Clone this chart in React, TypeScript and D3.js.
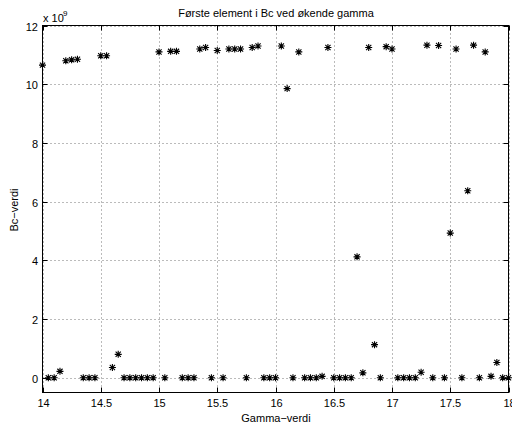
import React from "react";
import * as d3 from "d3";

const gamma = [
  14.0, 14.05, 14.1, 14.15, 14.2, 14.25, 14.3, 14.35, 14.4, 14.45,
  14.5, 14.55, 14.6, 14.65, 14.7, 14.75, 14.8, 14.85, 14.9, 14.95,
  15.0, 15.05, 15.1, 15.15, 15.2, 15.25, 15.3, 15.35, 15.4, 15.45,
  15.5, 15.55, 15.6, 15.65, 15.7, 15.75, 15.8, 15.85, 15.9, 15.95,
  16.0, 16.05, 16.1, 16.15, 16.2, 16.25, 16.3, 16.35, 16.4, 16.45,
  16.5, 16.55, 16.6, 16.65, 16.7, 16.75, 16.8, 16.85, 16.9, 16.95,
  17.0, 17.05, 17.1, 17.15, 17.2, 17.25, 17.3, 17.35, 17.4, 17.45,
  17.5, 17.55, 17.6, 17.65, 17.7, 17.75, 17.8, 17.85, 17.9, 17.95,
  18.0,
];

// Bc values in units of 1e9
const bc = [
  10.65, 0, 0, 0.22, 10.8, 10.83, 10.85, 0, 0, 0,
  10.97, 10.97, 0.35, 0.8, 0, 0, 0, 0, 0, 0,
  11.1, 0, 11.12, 11.12, 0, 0, 0, 11.2, 11.25, 0,
  11.15, 0, 11.2, 11.2, 11.2, 0, 11.25, 11.3, 0, 0,
  0, 11.3, 9.85, 0, 11.1, 0, 0, 0, 0.05, 11.25,
  0, 0, 0, 0, 4.12, 0.17, 11.25, 1.13, 0, 11.28,
  11.2, 0, 0, 0, 0, 0.19, 11.33, 0, 11.32, 0,
  4.93, 11.2, 0, 6.37, 11.33, 0, 11.1, 0.05, 0.52, 0,
  0,
];

const xTicks = [14, 14.5, 15, 15.5, 16, 16.5, 17, 17.5, 18];
const yTicks = [0, 2, 4, 6, 8, 10, 12];

const W = 512;
const H = 426;
const L = 42.5;
const R = 508.5;
const T = 25.5;
const B = 392.5;

export default function App() {
  const x = d3.scaleLinear().domain([14, 18]).range([L, R]);
  const y = d3.scaleLinear().domain([-0.5, 12]).range([B, T]);
  const font = "'Liberation Sans', Arial, Helvetica, sans-serif";
  const tl = 5;
  const m = 3.5;
  const md = 2.6;

  return (
    <svg
      width={W}
      height={H}
      style={{ position: "fixed", left: 0, top: 0, background: "#fff" }}
      fontFamily={font}
    >
      <rect x={0} y={0} width={W} height={H} fill="#fff" />
      {/* grid */}
      {xTicks.map((t) => (
        <line
          key={"gx" + t}
          x1={Math.round(x(t)) + 0.5}
          x2={Math.round(x(t)) + 0.5}
          y1={T}
          y2={B}
          stroke="#777"
          strokeWidth={1}
          strokeDasharray="1 3"
        />
      ))}
      {yTicks.map((t) => (
        <line
          key={"gy" + t}
          x1={L}
          x2={R}
          y1={Math.round(y(t)) + 0.5}
          y2={Math.round(y(t)) + 0.5}
          stroke="#777"
          strokeWidth={1}
          strokeDasharray="1 3"
        />
      ))}
      {/* ticks */}
      {xTicks.map((t) => {
        const px = Math.round(x(t)) + 0.5;
        return (
          <g key={"tx" + t}>
            <line x1={px} x2={px} y1={B} y2={B - tl} stroke="#000" />
            <line x1={px} x2={px} y1={T} y2={T + tl} stroke="#000" />
            <text x={px} y={407} fontSize={11} textAnchor="middle" fill="#000">
              {String(t)}
            </text>
          </g>
        );
      })}
      {yTicks.map((t) => {
        const py = Math.round(y(t)) + 0.5;
        return (
          <g key={"ty" + t}>
            <line x1={L} x2={L + tl} y1={py} y2={py} stroke="#000" />
            <line x1={R} x2={R - tl} y1={py} y2={py} stroke="#000" />
            <text x={38} y={py + 4} fontSize={11} textAnchor="end" fill="#000">
              {String(t)}
            </text>
          </g>
        );
      })}
      {/* box */}
      <rect x={L} y={T} width={R - L} height={B - T} fill="none" stroke="#000" strokeWidth={1} />
      {/* markers */}
      {gamma.map((g, i) => {
        const cx = x(g);
        const cy = y(bc[i]);
        const d =
          `M${cx - m},${cy}L${cx + m},${cy}` +
          `M${cx},${cy - m}L${cx},${cy + m}` +
          `M${cx - md},${cy - md}L${cx + md},${cy + md}` +
          `M${cx - md},${cy + md}L${cx + md},${cy - md}`;
        return <path key={"p" + i} d={d} stroke="#000" strokeWidth={1.1} fill="none" />;
      })}
      {/* exponent */}
      <text x={43} y={22} fontSize={11} fill="#000">
        x 10
      </text>
      <text x={63} y={16} fontSize={8} fill="#000">
        9
      </text>
      {/* title */}
      <text x={276} y={17} fontSize={11} textAnchor="middle" fill="#000">
        Første element i Bc ved økende gamma
      </text>
      {/* axis labels */}
      <text x={276} y={422} fontSize={11} textAnchor="middle" fill="#000">
        Gamma−verdi
      </text>
      <text
        transform={`translate(18,210) rotate(-90)`}
        fontSize={11}
        textAnchor="middle"
        fill="#000"
      >
        Bc−verdi
      </text>
    </svg>
  );
}
